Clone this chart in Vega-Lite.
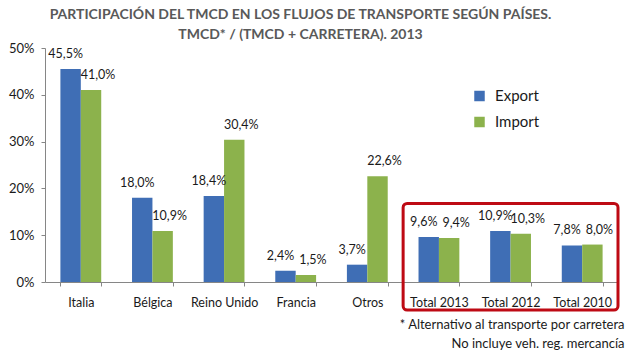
{
  "$schema": "https://vega.github.io/schema/vega-lite/v6.json",
  "width": 573,
  "height": 234,
  "padding": {"left": 8, "top": 8, "right": 5, "bottom": 5},
  "config": {
    "font": "Lato",
    "view": {"stroke": null},
    "locale": {"number": {"decimal": ",", "thousands": ".", "grouping": [3], "currency": ["", " €"]}}
  },
  "title": {
    "text": ["PARTICIPACIÓN DEL TMCD EN LOS FLUJOS DE TRANSPORTE SEGÚN PAÍSES.", "TMCD* / (TMCD + CARRETERA). 2013"],
    "fontSize": 14,
    "fontWeight": "bold",
    "color": "#595959",
    "anchor": "middle",
    "frame": "group",
    "offset": 0,
    "lineHeight": 20,
    "dx": -31
  },
  "datasets": {
    "bars": [
      {"pais": "Italia", "serie": "Export", "valor": 0.455},
      {"pais": "Italia", "serie": "Import", "valor": 0.41},
      {"pais": "Bélgica", "serie": "Export", "valor": 0.18},
      {"pais": "Bélgica", "serie": "Import", "valor": 0.109},
      {"pais": "Reino Unido", "serie": "Export", "valor": 0.184},
      {"pais": "Reino Unido", "serie": "Import", "valor": 0.304},
      {"pais": "Francia", "serie": "Export", "valor": 0.024},
      {"pais": "Francia", "serie": "Import", "valor": 0.015},
      {"pais": "Otros", "serie": "Export", "valor": 0.037},
      {"pais": "Otros", "serie": "Import", "valor": 0.226},
      {"pais": "Total 2013", "serie": "Export", "valor": 0.096},
      {"pais": "Total 2013", "serie": "Import", "valor": 0.094},
      {"pais": "Total 2012", "serie": "Export", "valor": 0.109},
      {"pais": "Total 2012", "serie": "Import", "valor": 0.103},
      {"pais": "Total 2010", "serie": "Export", "valor": 0.078},
      {"pais": "Total 2010", "serie": "Import", "valor": 0.08}
    ],
    "box": [{"x0": 5, "x1": 8, "y0": -0.06, "y1": 0.168}]
  },
  "layer": [
    {
      "data": {"name": "bars"},
      "encoding": {
        "x": {
          "field": "pais",
          "type": "nominal",
          "sort": null,
          "scale": {"paddingInner": 0.43, "paddingOuter": 0.215},
          "axis": {
            "title": ["*  Alternativo al transporte por carretera", "No incluye veh. reg. mercancía"],
            "labelAngle": 0,
            "tickBand": "extent",
            "tickSize": 4,
            "tickColor": "#868686",
            "domainColor": "#868686",
            "labelFontSize": 12.5,
            "labelColor": "#1a1a1a",
            "labelPadding": 10,
            "titleAnchor": "end",
            "titleAlign": "right",
            "titleFontSize": 13,
            "titleFontWeight": "normal",
            "titleColor": "#1a1a1a",
            "titleX": 579,
            "titleY": 42.5,
            "titleBaseline": "middle",
            "titleLineHeight": 19
          }
        },
        "xOffset": {"field": "serie", "type": "nominal", "sort": ["Export", "Import"]},
        "y": {
          "field": "valor",
          "type": "quantitative",
          "scale": {"domain": [0, 0.5]},
          "axis": {
            "format": ".0%",
            "values": [0, 0.1, 0.2, 0.3, 0.4, 0.5],
            "grid": false,
            "title": null,
            "domainColor": "#868686",
            "tickColor": "#868686",
            "tickSize": 4,
            "labelFontSize": 13,
            "labelColor": "#1a1a1a",
            "labelPadding": 7
          }
        }
      },
      "layer": [
        {
          "mark": {"type": "bar"},
          "encoding": {
            "color": {
              "field": "serie",
              "type": "nominal",
              "scale": {"domain": ["Export", "Import"], "range": ["#3F6EB5", "#8CB24C"]},
              "legend": {
                "orient": "none",
                "legendX": 427,
                "legendY": 40.5,
                "title": null,
                "symbolType": "square",
                "symbolSize": 110,
                "symbolStrokeWidth": 0,
                "labelFontSize": 15,
                "labelColor": "#1a1a1a",
                "rowPadding": 10,
                "labelOffset": 8
              }
            }
          }
        },
        {
          "transform": [{"filter": "datum.serie === 'Export'"}],
          "mark": {"type": "text", "baseline": "middle", "dy": -15, "dx": -5, "fontSize": 12.5, "color": "#1a1a1a"},
          "encoding": {"text": {"field": "valor", "type": "quantitative", "format": ".1%"}}
        },
        {
          "transform": [{"filter": "datum.serie === 'Import'"}],
          "mark": {"type": "text", "baseline": "middle", "dy": -15, "dx": 7, "fontSize": 12.5, "color": "#1a1a1a"},
          "encoding": {"text": {"field": "valor", "type": "quantitative", "format": ".1%"}}
        }
      ]
    },
    {
      "data": {"name": "box"},
      "mark": {"type": "rect", "filled": false, "stroke": "#BE0A14", "strokeWidth": 3, "cornerRadius": 4},
      "encoding": {
        "x": {"field": "x0", "type": "quantitative", "scale": {"domain": [0, 8], "nice": false, "zero": false}, "axis": null},
        "x2": {"field": "x1"},
        "y": {"field": "y0", "type": "quantitative", "scale": {"domain": [0, 0.5]}},
        "y2": {"field": "y1"}
      }
    }
  ],
  "resolve": {"scale": {"x": "independent"}, "axis": {"x": "independent"}}
}
